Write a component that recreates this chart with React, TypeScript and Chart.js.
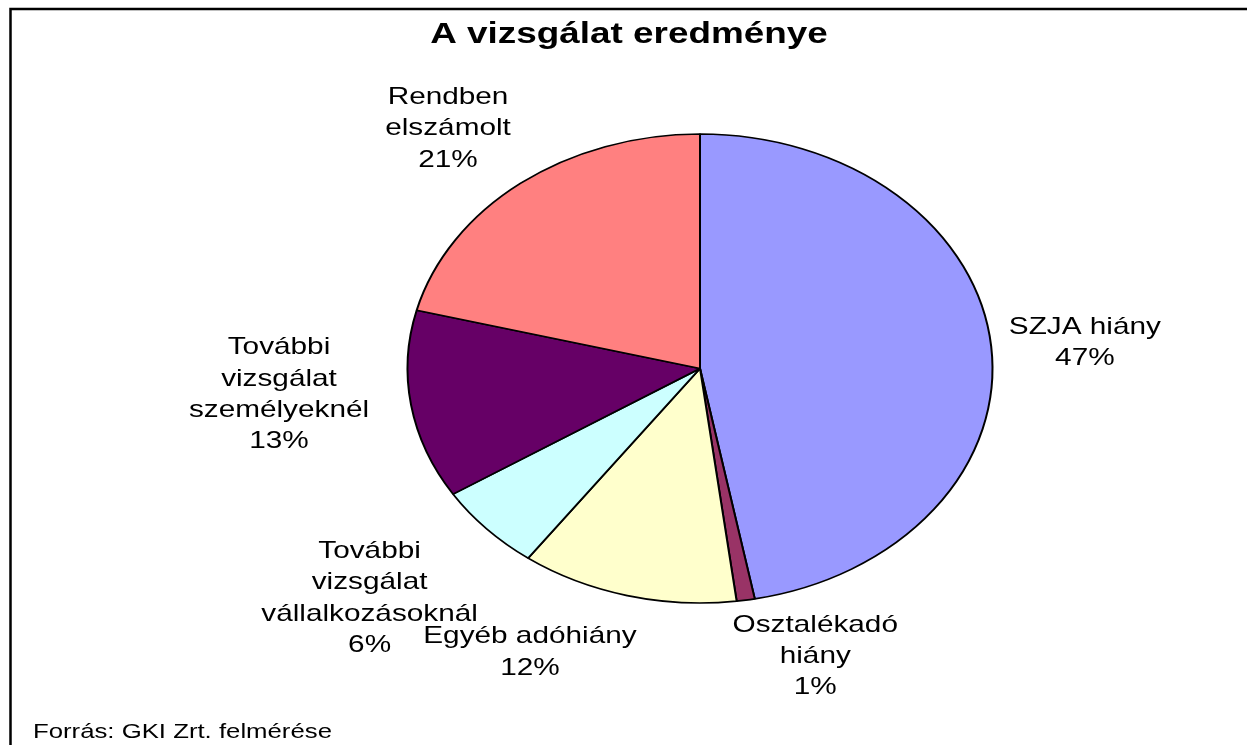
import React, { useEffect, useRef } from "react";
import { Chart, registerables } from "chart.js";

Chart.register(...registerables);

// ---- Data ----
const CATEGORIES: string[][] = [
  ["SZJA hiány"],
  ["Osztalékadó", "hiány"],
  ["Egyéb adóhiány"],
  ["További", "vizsgálat", "vállalkozásoknál"],
  ["További", "vizsgálat", "személyeknél"],
  ["Rendben", "elszámolt"],
];
const VALUES: number[] = [47, 1, 12, 6, 13, 21];
const COLORS: string[] = ["#9999FF", "#993366", "#FFFFCC", "#CCFFFF", "#660066", "#FF8080"];
const TITLE = "A vizsgálat eredménye";
const SOURCE = "Forrás: GKI Zrt. felmérése";

// ---- Label layout (angle shift in degrees, radial factor of the ellipse) ----
const LABEL_ANGLE_SHIFT = [0.3, -8.9, 11.4, 2.5, 4.9, -2.1];
const LABEL_RADIUS = [1.321, 1.282, 1.336, 1.49, 1.443, 1.343];

const W = 1247;
const H = 745;
const SX = 1.25; // horizontal text stretch
const SQUASH = 234.5 / 292.5; // vertical squash of the pie
const FONT = '"Liberation Sans", Arial, sans-serif';

function stretchText(ctx: CanvasRenderingContext2D, text: string, x: number, y: number, align: CanvasTextAlign) {
  ctx.save();
  ctx.translate(x, y);
  ctx.scale(SX, 1);
  ctx.textAlign = align;
  ctx.textBaseline = "alphabetic";
  ctx.fillText(text, 0, 0);
  ctx.restore();
}

const ellipsePlugin = {
  id: "ellipse",
  beforeDatasetsDraw(chart: any) {
    const arc = chart.getDatasetMeta(0).data[0];
    const ctx = chart.ctx;
    ctx.save();
    ctx.translate(0, arc.y);
    ctx.scale(1, SQUASH);
    ctx.translate(0, -arc.y);
  },
  afterDatasetsDraw(chart: any) {
    chart.ctx.restore();
  },
};

const decorPlugin = {
  id: "decor",
  afterDraw(chart: any) {
    const ctx: CanvasRenderingContext2D = chart.ctx;
    const meta = chart.getDatasetMeta(0);
    const total = VALUES.reduce((a, b) => a + b, 0);
    ctx.save();
    ctx.fillStyle = "#000";

    // Title
    ctx.font = `bold 29.5px ${FONT}`;
    stretchText(ctx, TITLE, 629, 43, "center");

    // Slice labels
    const fs = 23.8;
    const lh = 31.3;
    const cap = 0.716 * fs;
    ctx.font = `${fs}px ${FONT}`;
    meta.data.forEach((arc: any, i: number) => {
      const mid = (arc.startAngle + arc.endAngle) / 2 + (LABEL_ANGLE_SHIFT[i] * Math.PI) / 180;
      const r = arc.outerRadius * LABEL_RADIUS[i];
      const x = arc.x + r * Math.cos(mid);
      const y = arc.y + r * SQUASH * Math.sin(mid);
      const lines = [...CATEGORIES[i], `${Math.round((VALUES[i] / total) * 100)}%`];
      const n = lines.length;
      lines.forEach((t, j) => {
        const by = y - ((n - 1) / 2) * lh + j * lh + cap / 2;
        stretchText(ctx, t, x, by, "center");
      });
    });

    // Source
    ctx.font = `20.6px ${FONT}`;
    stretchText(ctx, SOURCE, 33, 738, "left");

    // Frame
    ctx.strokeStyle = "#000";
    ctx.lineWidth = 2.5;
    ctx.beginPath();
    ctx.moveTo(10.5, H + 2);
    ctx.lineTo(10.5, 9);
    ctx.lineTo(W + 2, 9);
    ctx.stroke();
    ctx.restore();
  },
};

export default function App() {
  const ref = useRef<HTMLCanvasElement | null>(null);
  useEffect(() => {
    if (!ref.current) return;
    const chart = new Chart(ref.current, {
      type: "pie",
      data: {
        labels: CATEGORIES,
        datasets: [
          {
            data: VALUES,
            backgroundColor: COLORS,
            borderColor: "#000",
            borderWidth: 2,
          },
        ],
      },
      options: {
        responsive: false,
        animation: false,
        devicePixelRatio: 1,
        radius: 292.5,
        layout: { padding: { left: 407.5, right: 254.5, top: 76, bottom: 84 } },
        plugins: {
          legend: { display: false },
          tooltip: { enabled: false },
          title: { display: false },
        },
      } as any,
      plugins: [ellipsePlugin, decorPlugin],
    });
    return () => chart.destroy();
  }, []);
  return (
    <div style={{ position: "absolute", left: 0, top: 0, width: W, height: H, background: "#fff" }}>
      <canvas ref={ref} width={W} height={H} style={{ display: "block" }} />
    </div>
  );
}
